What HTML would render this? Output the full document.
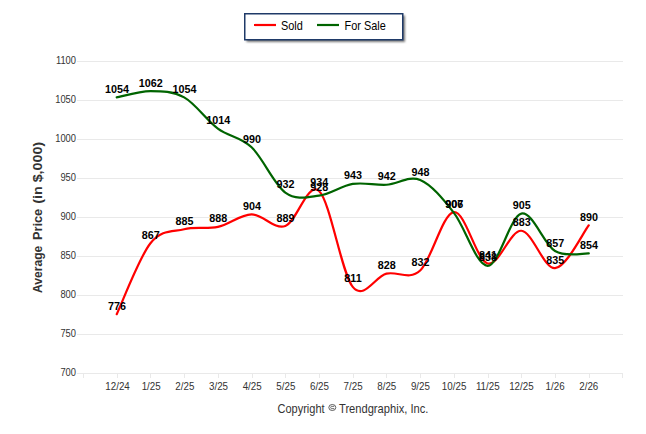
<!DOCTYPE html><html><head><meta charset="utf-8"><style>html,body{margin:0;padding:0;background:#fff;width:646px;height:434px;overflow:hidden}svg{display:block}text{font-family:"Liberation Sans",sans-serif}</style></head><body>
<svg width="646" height="434" viewBox="0 0 646 434">
<defs><filter id="sh" x="-10%" y="-30%" width="120%" height="160%"><feGaussianBlur stdDeviation="0.9"/></filter></defs>
<rect width="646" height="434" fill="#fff"/>
<line x1="77" y1="61.5" x2="623.0" y2="61.5" stroke="#e9e9e9" stroke-width="1"/>
<line x1="77" y1="100.5" x2="623.0" y2="100.5" stroke="#e9e9e9" stroke-width="1"/>
<line x1="77" y1="139.5" x2="623.0" y2="139.5" stroke="#e9e9e9" stroke-width="1"/>
<line x1="77" y1="178.5" x2="623.0" y2="178.5" stroke="#e9e9e9" stroke-width="1"/>
<line x1="77" y1="217.5" x2="623.0" y2="217.5" stroke="#e9e9e9" stroke-width="1"/>
<line x1="77" y1="256.5" x2="623.0" y2="256.5" stroke="#e9e9e9" stroke-width="1"/>
<line x1="77" y1="295.5" x2="623.0" y2="295.5" stroke="#e9e9e9" stroke-width="1"/>
<line x1="77" y1="334.5" x2="623.0" y2="334.5" stroke="#e9e9e9" stroke-width="1"/>
<line x1="77" y1="373.5" x2="623.0" y2="373.5" stroke="#e9e9e9" stroke-width="1"/>
<line x1="83.5" y1="373.5" x2="83.5" y2="378" stroke="#e9e9e9" stroke-width="1"/>
<line x1="117.5" y1="373.5" x2="117.5" y2="378" stroke="#e9e9e9" stroke-width="1"/>
<line x1="150.5" y1="373.5" x2="150.5" y2="378" stroke="#e9e9e9" stroke-width="1"/>
<line x1="184.5" y1="373.5" x2="184.5" y2="378" stroke="#e9e9e9" stroke-width="1"/>
<line x1="218.5" y1="373.5" x2="218.5" y2="378" stroke="#e9e9e9" stroke-width="1"/>
<line x1="252.5" y1="373.5" x2="252.5" y2="378" stroke="#e9e9e9" stroke-width="1"/>
<line x1="285.5" y1="373.5" x2="285.5" y2="378" stroke="#e9e9e9" stroke-width="1"/>
<line x1="319.5" y1="373.5" x2="319.5" y2="378" stroke="#e9e9e9" stroke-width="1"/>
<line x1="353.5" y1="373.5" x2="353.5" y2="378" stroke="#e9e9e9" stroke-width="1"/>
<line x1="386.5" y1="373.5" x2="386.5" y2="378" stroke="#e9e9e9" stroke-width="1"/>
<line x1="420.5" y1="373.5" x2="420.5" y2="378" stroke="#e9e9e9" stroke-width="1"/>
<line x1="454.5" y1="373.5" x2="454.5" y2="378" stroke="#e9e9e9" stroke-width="1"/>
<line x1="488.5" y1="373.5" x2="488.5" y2="378" stroke="#e9e9e9" stroke-width="1"/>
<line x1="521.5" y1="373.5" x2="521.5" y2="378" stroke="#e9e9e9" stroke-width="1"/>
<line x1="555.5" y1="373.5" x2="555.5" y2="378" stroke="#e9e9e9" stroke-width="1"/>
<line x1="589.5" y1="373.5" x2="589.5" y2="378" stroke="#e9e9e9" stroke-width="1"/>
<line x1="622.5" y1="373.5" x2="622.5" y2="378" stroke="#e9e9e9" stroke-width="1"/>
<text transform="translate(76.00,64.00) scale(0.850,1)" font-size="11" font-weight="normal" fill="#333" text-anchor="end">1100</text>
<text transform="translate(76.00,103.00) scale(0.850,1)" font-size="11" font-weight="normal" fill="#333" text-anchor="end">1050</text>
<text transform="translate(76.00,142.00) scale(0.850,1)" font-size="11" font-weight="normal" fill="#333" text-anchor="end">1000</text>
<text transform="translate(76.00,181.00) scale(0.850,1)" font-size="11" font-weight="normal" fill="#333" text-anchor="end">950</text>
<text transform="translate(76.00,220.00) scale(0.850,1)" font-size="11" font-weight="normal" fill="#333" text-anchor="end">900</text>
<text transform="translate(76.00,259.00) scale(0.850,1)" font-size="11" font-weight="normal" fill="#333" text-anchor="end">850</text>
<text transform="translate(76.00,298.00) scale(0.850,1)" font-size="11" font-weight="normal" fill="#333" text-anchor="end">800</text>
<text transform="translate(76.00,337.00) scale(0.850,1)" font-size="11" font-weight="normal" fill="#333" text-anchor="end">750</text>
<text transform="translate(76.00,376.00) scale(0.850,1)" font-size="11" font-weight="normal" fill="#333" text-anchor="end">700</text>
<text transform="translate(117.52,390.00) scale(0.890,1)" font-size="11" font-weight="normal" fill="#333" text-anchor="middle">12/24</text>
<text transform="translate(151.18,390.00) scale(0.890,1)" font-size="11" font-weight="normal" fill="#333" text-anchor="middle">1/25</text>
<text transform="translate(184.84,390.00) scale(0.890,1)" font-size="11" font-weight="normal" fill="#333" text-anchor="middle">2/25</text>
<text transform="translate(218.50,390.00) scale(0.890,1)" font-size="11" font-weight="normal" fill="#333" text-anchor="middle">3/25</text>
<text transform="translate(252.15,390.00) scale(0.890,1)" font-size="11" font-weight="normal" fill="#333" text-anchor="middle">4/25</text>
<text transform="translate(285.81,390.00) scale(0.890,1)" font-size="11" font-weight="normal" fill="#333" text-anchor="middle">5/25</text>
<text transform="translate(319.47,390.00) scale(0.890,1)" font-size="11" font-weight="normal" fill="#333" text-anchor="middle">6/25</text>
<text transform="translate(353.13,390.00) scale(0.890,1)" font-size="11" font-weight="normal" fill="#333" text-anchor="middle">7/25</text>
<text transform="translate(386.79,390.00) scale(0.890,1)" font-size="11" font-weight="normal" fill="#333" text-anchor="middle">8/25</text>
<text transform="translate(420.45,390.00) scale(0.890,1)" font-size="11" font-weight="normal" fill="#333" text-anchor="middle">9/25</text>
<text transform="translate(454.11,390.00) scale(0.890,1)" font-size="11" font-weight="normal" fill="#333" text-anchor="middle">10/25</text>
<text transform="translate(487.76,390.00) scale(0.890,1)" font-size="11" font-weight="normal" fill="#333" text-anchor="middle">11/25</text>
<text transform="translate(521.42,390.00) scale(0.890,1)" font-size="11" font-weight="normal" fill="#333" text-anchor="middle">12/25</text>
<text transform="translate(555.08,390.00) scale(0.890,1)" font-size="11" font-weight="normal" fill="#333" text-anchor="middle">1/26</text>
<text transform="translate(588.74,390.00) scale(0.890,1)" font-size="11" font-weight="normal" fill="#333" text-anchor="middle">2/26</text>
<text transform="translate(41.5,293.0) rotate(-90)" font-size="13" font-weight="bold" fill="#333" textLength="47.3" lengthAdjust="spacingAndGlyphs">Average</text>
<text transform="translate(41.5,240.0) rotate(-90)" font-size="13" font-weight="bold" fill="#333" textLength="31.2" lengthAdjust="spacingAndGlyphs">Price</text>
<text transform="translate(41.5,203.8) rotate(-90)" font-size="13" font-weight="bold" fill="#333" textLength="62.0" lengthAdjust="spacingAndGlyphs">(in $,000)</text>
<path d="M116.72,314.22 C122.34,302.39 139.20,257.41 150.44,243.24 C161.68,229.07 172.92,231.93 184.16,229.20 C195.40,226.47 206.64,229.33 217.88,226.86 C229.11,224.39 240.35,214.51 251.59,214.38 C262.83,214.25 274.07,229.98 285.31,226.08 C296.55,222.18 307.79,180.84 319.03,190.98 C330.27,201.12 341.51,273.14 352.75,286.92 C363.99,300.70 375.23,276.39 386.47,273.66 C397.71,270.93 408.95,280.81 420.19,270.54 C431.43,260.27 442.67,213.21 453.91,212.04 C465.15,210.87 476.39,260.40 487.62,263.52 C498.86,266.64 510.10,229.98 521.34,230.76 C532.58,231.54 543.82,269.11 555.06,268.20 C566.30,267.29 583.16,232.45 588.78,225.30" fill="none" stroke="#ff0000" stroke-width="2.2" stroke-linecap="round" stroke-linejoin="round"/>
<path d="M116.72,97.38 C122.34,96.34 139.20,91.14 150.44,91.14 C161.68,91.14 172.92,91.14 184.16,97.38 C195.40,103.62 206.64,120.26 217.88,128.58 C229.11,136.90 240.35,136.64 251.59,147.30 C262.83,157.96 274.07,184.48 285.31,192.54 C296.55,200.60 307.79,197.09 319.03,195.66 C330.27,194.23 341.51,185.78 352.75,183.96 C363.99,182.14 375.23,185.39 386.47,184.74 C397.71,184.09 408.95,175.38 420.19,180.06 C431.43,184.74 442.67,198.52 453.91,212.82 C465.15,227.12 476.39,265.73 487.62,265.86 C498.86,265.99 510.10,216.07 521.34,213.60 C532.58,211.13 543.82,244.41 555.06,251.04 C566.30,257.67 583.16,252.99 588.78,253.38" fill="none" stroke="#006400" stroke-width="2.2" stroke-linecap="round" stroke-linejoin="round"/>
<text transform="translate(117.02,309.72) scale(0.980,1)" font-size="11" font-weight="bold" fill="#000" text-anchor="middle">776</text>
<text transform="translate(150.74,238.74) scale(0.980,1)" font-size="11" font-weight="bold" fill="#000" text-anchor="middle">867</text>
<text transform="translate(184.46,224.70) scale(0.980,1)" font-size="11" font-weight="bold" fill="#000" text-anchor="middle">885</text>
<text transform="translate(218.18,222.36) scale(0.980,1)" font-size="11" font-weight="bold" fill="#000" text-anchor="middle">888</text>
<text transform="translate(251.89,209.88) scale(0.980,1)" font-size="11" font-weight="bold" fill="#000" text-anchor="middle">904</text>
<text transform="translate(285.61,221.58) scale(0.980,1)" font-size="11" font-weight="bold" fill="#000" text-anchor="middle">889</text>
<text transform="translate(319.33,186.48) scale(0.980,1)" font-size="11" font-weight="bold" fill="#000" text-anchor="middle">934</text>
<text transform="translate(353.05,282.42) scale(0.980,1)" font-size="11" font-weight="bold" fill="#000" text-anchor="middle">811</text>
<text transform="translate(386.77,269.16) scale(0.980,1)" font-size="11" font-weight="bold" fill="#000" text-anchor="middle">828</text>
<text transform="translate(420.49,266.04) scale(0.980,1)" font-size="11" font-weight="bold" fill="#000" text-anchor="middle">832</text>
<text transform="translate(454.21,207.54) scale(0.980,1)" font-size="11" font-weight="bold" fill="#000" text-anchor="middle">907</text>
<text transform="translate(487.93,259.02) scale(0.980,1)" font-size="11" font-weight="bold" fill="#000" text-anchor="middle">841</text>
<text transform="translate(521.64,226.26) scale(0.980,1)" font-size="11" font-weight="bold" fill="#000" text-anchor="middle">883</text>
<text transform="translate(555.36,263.70) scale(0.980,1)" font-size="11" font-weight="bold" fill="#000" text-anchor="middle">835</text>
<text transform="translate(589.08,220.80) scale(0.980,1)" font-size="11" font-weight="bold" fill="#000" text-anchor="middle">890</text>
<text transform="translate(117.02,92.88) scale(0.980,1)" font-size="11" font-weight="bold" fill="#000" text-anchor="middle">1054</text>
<text transform="translate(150.74,86.64) scale(0.980,1)" font-size="11" font-weight="bold" fill="#000" text-anchor="middle">1062</text>
<text transform="translate(184.46,92.88) scale(0.980,1)" font-size="11" font-weight="bold" fill="#000" text-anchor="middle">1054</text>
<text transform="translate(218.18,124.08) scale(0.980,1)" font-size="11" font-weight="bold" fill="#000" text-anchor="middle">1014</text>
<text transform="translate(251.89,142.80) scale(0.980,1)" font-size="11" font-weight="bold" fill="#000" text-anchor="middle">990</text>
<text transform="translate(285.61,188.04) scale(0.980,1)" font-size="11" font-weight="bold" fill="#000" text-anchor="middle">932</text>
<text transform="translate(319.33,191.16) scale(0.980,1)" font-size="11" font-weight="bold" fill="#000" text-anchor="middle">928</text>
<text transform="translate(353.05,179.46) scale(0.980,1)" font-size="11" font-weight="bold" fill="#000" text-anchor="middle">943</text>
<text transform="translate(386.77,180.24) scale(0.980,1)" font-size="11" font-weight="bold" fill="#000" text-anchor="middle">942</text>
<text transform="translate(420.49,175.56) scale(0.980,1)" font-size="11" font-weight="bold" fill="#000" text-anchor="middle">948</text>
<text transform="translate(454.21,208.32) scale(0.980,1)" font-size="11" font-weight="bold" fill="#000" text-anchor="middle">906</text>
<text transform="translate(487.93,261.36) scale(0.980,1)" font-size="11" font-weight="bold" fill="#000" text-anchor="middle">838</text>
<text transform="translate(521.64,209.10) scale(0.980,1)" font-size="11" font-weight="bold" fill="#000" text-anchor="middle">905</text>
<text transform="translate(555.36,246.54) scale(0.980,1)" font-size="11" font-weight="bold" fill="#000" text-anchor="middle">857</text>
<text transform="translate(589.08,248.88) scale(0.980,1)" font-size="11" font-weight="bold" fill="#000" text-anchor="middle">854</text>
<rect x="246.5" y="15.5" width="158.5" height="26.5" fill="#777" filter="url(#sh)"/>
<rect x="244.75" y="13.75" width="158" height="26" fill="#fff" stroke="#1f3a68" stroke-width="1.5"/>
<line x1="254" y1="25" x2="276" y2="25" stroke="#ff0000" stroke-width="2.2"/>
<line x1="317" y1="25" x2="339" y2="25" stroke="#006400" stroke-width="2.2"/>
<text transform="translate(281.00,30.00) scale(0.910,1)" font-size="12" font-weight="normal" fill="#000" text-anchor="start">Sold</text>
<text transform="translate(344.50,30.00) scale(0.910,1)" font-size="12" font-weight="normal" fill="#000" text-anchor="start">For Sale</text>
<text transform="translate(277.50,413.00) scale(0.880,1)" font-size="12.5" font-weight="normal" fill="#333" text-anchor="start">Copyright</text>
<ellipse cx="332.3" cy="407.5" rx="3.5" ry="3.0" fill="none" stroke="#444" stroke-width="0.85"/>
<path d="M334.2,406.4 H331.6 Q330.7,406.4 330.7,407.5 Q330.7,408.6 331.6,408.6 H334.2" fill="none" stroke="#444" stroke-width="0.75"/>
<text transform="translate(339.00,413.00) scale(0.892,1)" font-size="12.5" font-weight="normal" fill="#333" text-anchor="start">Trendgraphix, Inc.</text>
</svg></body></html>
